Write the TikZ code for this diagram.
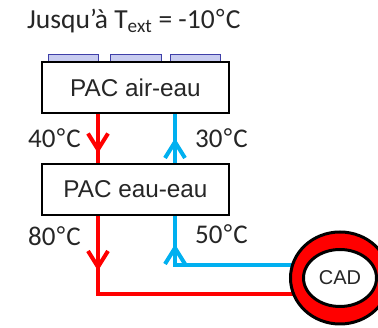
\documentclass[tikz,border=0pt]{standalone}
\usepackage{fontspec}
\setmainfont{Carlito}
\newfontfamily\boxfont{Liberation Sans}
\usetikzlibrary{shapes.geometric,decorations.markings}
\definecolor{hot}{HTML}{FF0000}
\definecolor{cold}{HTML}{00B0F0}
\definecolor{panelfill}{HTML}{C8CCF0}
\definecolor{paneldraw}{HTML}{3F3FA8}
\definecolor{txt}{HTML}{262626}
\newcommand{\degsym}{{\boxfont °}}
\tikzset{
  pac/.style={draw=black, line width=2pt, fill=white, minimum width=187pt, minimum height=51pt, inner sep=0pt, font=\boxfont\fontsize{24.3}{26}\selectfont, text=txt},
  panel/.style={draw=paneldraw, line width=1pt, fill=panelfill},
  temp/.style={font=\fontsize{27}{30}\selectfont, text=txt, inner sep=0pt},
  pipe/.style={line width=4.5pt},
  vhead/.style={postaction={decorate, decoration={markings, mark=at position #1 with {\draw[line width=4pt, line join=miter] (-16pt,10pt) -- (0,0) -- (-16pt,-10pt);}}}},
  vheadrev/.style={postaction={decorate, decoration={markings, mark=at position #1 with {\draw[line width=4pt, line join=miter] (16pt,10pt) -- (0,0) -- (16pt,-10pt);}}}},
}
\begin{document}
\begin{tikzpicture}[x=1pt,y=-1pt]
\useasboundingbox (0,0) rectangle (378,328);
\clip (0,0) rectangle (378,328);
% title
\node[anchor=base west, inner sep=0pt, text=txt, font=\fontsize{27.5}{30}\selectfont] (title) at (27,29) {Jusqu’à T\textsubscript{ext} = -10\degsym C};
% panels
\draw[panel] (48,55) rectangle (98,62);
\draw[panel] (110,55) rectangle (161,62);
\draw[panel] (170,55) rectangle (220,62);
% boxes
\node[pac] (air) at (135.5,88) {PAC air-eau};
\node[pac] (eau) at (135.5,189.5) {PAC eau-eau};
\coordinate (rx) at (98,0);
\coordinate (bx) at (175,0);
\coordinate (cadc) at (340,278);
\coordinate (by) at (0,265);
\coordinate (ry) at (0,294);
% pipes
\draw[pipe, hot, vhead=35pt] (air.south -| rx) -- (eau.north -| rx);
\draw[pipe, cold, vhead=21pt] (eau.north -| bx) -- (air.south -| bx);
\draw[pipe, hot, vhead=51pt] (eau.south -| rx) -- (rx |- ry) -- (cadc |- ry);
\draw[pipe, cold, vheadrev=32pt] (eau.south -| bx) -- (bx |- by) -- (cadc |- by);
% CAD
\draw[fill=hot, draw=black, line width=3pt] (cadc) ellipse [x radius=49.5pt, y radius=46pt];
\node[draw=black, fill=white, line width=3pt, ellipse, minimum width=73pt, minimum height=57pt, inner sep=0pt, font=\boxfont\fontsize{20}{22}\selectfont, text=txt] (cad) at (cadc) {CAD};
% labels
\node[temp, anchor=base east] (t40) at (81,148) {40\degsym C};
\node[temp, anchor=base west] (t30) at (195,148) {30\degsym C};
\node[temp, anchor=base east] (t80) at (81,246) {80\degsym C};
\node[temp, anchor=base west] (t50) at (195,244) {50\degsym C};
\end{tikzpicture}
\end{document}
